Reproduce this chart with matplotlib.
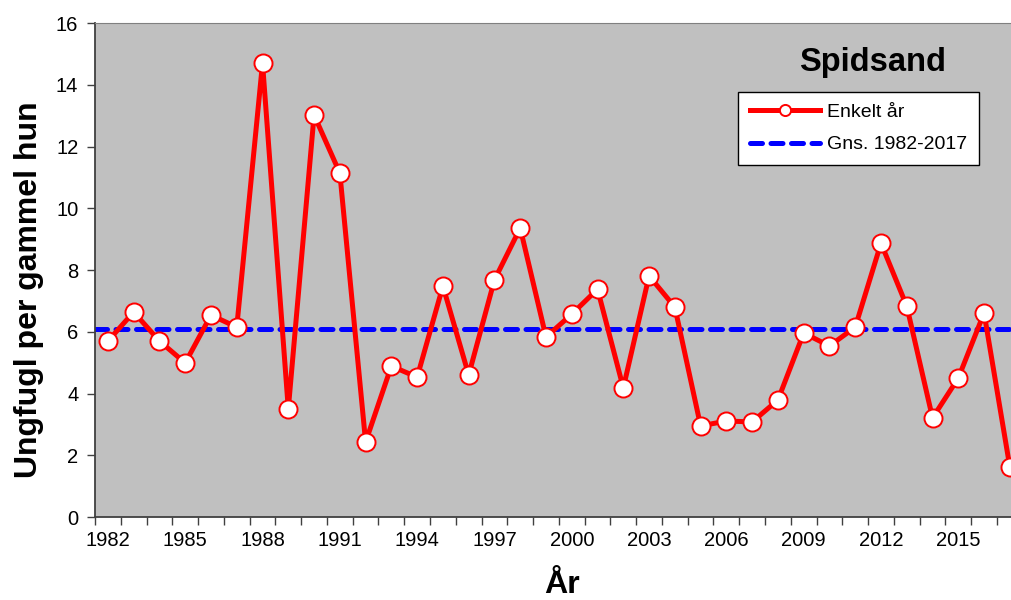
import matplotlib
matplotlib.use("Agg")
import matplotlib.pyplot as plt
from matplotlib.ticker import FixedLocator, NullFormatter

plt.rcParams["font.family"] = ["Liberation Sans", "DejaVu Sans"]

# data
years = list(range(1982, 2018))
young_per_female = [
    5.70, 6.64, 5.70, 4.99, 6.54, 6.15, 14.70, 3.50, 13.02, 11.14,
    2.43, 4.89, 4.53, 7.48, 4.60, 7.68, 9.36, 5.83, 6.57, 7.38,
    4.18, 7.81, 6.80, 2.95, 3.11, 3.08, 3.79, 5.96, 5.54, 6.15,
    8.87, 6.83, 3.21, 4.50, 6.61, 1.62,
]
mean_value = 6.1
labelled_years = list(range(1982, 2018, 3))
y_ticks = list(range(0, 17, 2))

fig = plt.figure(figsize=(10.12, 6.0), dpi=100)
ax = fig.add_axes([0.0939, 0.1383, 0.9167, 0.8233])
ax.set_facecolor("#C0C0C0")

ax.plot([years[0] - 0.5, years[-1] + 0.5], [mean_value, mean_value],
        color="#0000FF", lw=3.6, linestyle=(0, (2.4, 1.7)),
        dash_capstyle="round", label="Gns. 1982-2017", zorder=2)
ax.plot(years, young_per_female, color="#FF0000", lw=3.6,
        marker="o", ms=13, mfc="white", mec="#FF0000", mew=1.4,
        label="Enkelt år", zorder=3, clip_on=False)

ax.set_xlim(years[0] - 0.5, years[-1] + 0.5)
ax.set_ylim(0, 16)

# category-style x axis: ticks at year boundaries, labels centred
ax.xaxis.set_major_locator(FixedLocator([y - 0.5 for y in years] + [years[-1] + 0.5]))
ax.xaxis.set_major_formatter(NullFormatter())
ax.xaxis.set_minor_locator(FixedLocator(labelled_years))
ax.set_xticklabels([str(y) for y in labelled_years], minor=True)
ax.tick_params(axis="x", which="major", direction="out", length=6, width=1, color="#404040")
ax.tick_params(axis="x", which="minor", length=0, labelsize=14.5, pad=10)
ax.set_yticks(y_ticks)
ax.tick_params(axis="y", direction="out", length=6, width=1, color="#404040",
               labelsize=14.5, pad=6)

ax.spines["right"].set_visible(False)
ax.spines["top"].set_color("#808080")
ax.spines["left"].set_color("#404040")
ax.spines["bottom"].set_color("#404040")
ax.spines["left"].set_linewidth(1.3)
ax.spines["bottom"].set_linewidth(1.3)

ax.set_ylabel("Ungfugl per gammel hun", fontsize=23, fontweight="bold")
ax.yaxis.set_label_coords(-0.0555, 0.46)
ax.set_xlabel("År", fontsize=23, fontweight="bold")
ax.xaxis.set_label_coords(0.503, -0.107)

fig.text(873 / 1012, 1 - 62 / 600, "Spidsand", fontsize=23.5, fontweight="bold",
         ha="center", va="center")

handles, labels = ax.get_legend_handles_labels()
leg = ax.legend(handles[::-1], labels[::-1], loc="upper left",
                bbox_to_anchor=(738 / 1012, 1 - 92 / 600), bbox_transform=fig.transFigure,
                borderaxespad=0, fontsize=14, frameon=True, fancybox=False, framealpha=1,
                edgecolor="black", handlelength=3.6, labelspacing=0.75,
                borderpad=0.6, handletextpad=0.4)
leg.get_frame().set_linewidth(1.0)
leg.get_lines()[0].set_markersize(8)

fig.savefig("out.png", dpi=100)
